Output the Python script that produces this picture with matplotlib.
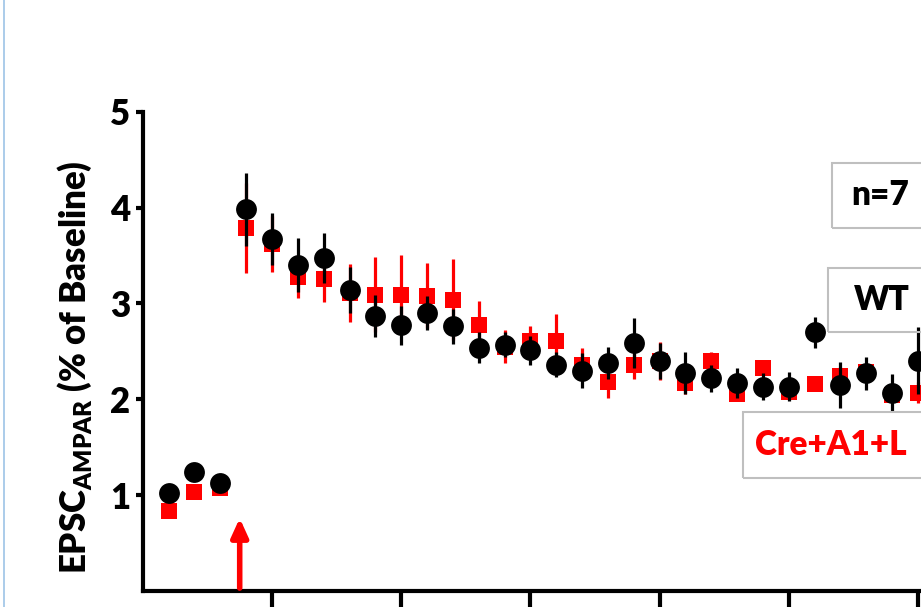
import matplotlib
matplotlib.use("Agg")
import matplotlib.pyplot as plt
from matplotlib.patches import Rectangle
from matplotlib.lines import Line2D

plt.rcParams['font.family'] = ['Lato', 'DejaVu Sans']
plt.rcParams['font.weight'] = 'heavy'
plt.rcParams['mathtext.fontset'] = 'custom'
plt.rcParams['mathtext.rm'] = 'Lato:heavy'
plt.rcParams['mathtext.bf'] = 'Lato:heavy'

# minutes
time = list(range(1, 31))

# WT (black circles)
wt_mean = [1.02, 1.24, 1.13, 3.98, 3.67, 3.40, 3.47, 3.14, 2.87, 2.77,
           2.90, 2.76, 2.54, 2.57, 2.51, 2.36, 2.30, 2.38, 2.59, 2.40,
           2.27, 2.22, 2.17, 2.13, 2.13, 2.70, 2.15, 2.27, 2.07, 2.40]
wt_sem = [0.0, 0.0, 0.0, 0.38, 0.27, 0.28, 0.26, 0.24, 0.22, 0.20,
          0.18, 0.18, 0.16, 0.13, 0.15, 0.13, 0.18, 0.17, 0.26, 0.19,
          0.22, 0.14, 0.16, 0.14, 0.15, 0.16, 0.24, 0.17, 0.19, 0.35]

# Cre+A1+L (red squares)
cre_mean = [0.83, 1.03, 1.07, 3.79, 3.62, 3.28, 3.25, 3.11, 3.09, 3.09,
            3.08, 3.04, 2.78, 2.55, 2.61, 2.61, 2.36, 2.18, 2.36, 2.40,
            2.17, 2.40, 2.06, 2.33, 2.08, 2.16, 2.24, 2.28, 2.04, 2.07]
cre_sem = [0.0, 0.0, 0.0, 0.47, 0.29, 0.22, 0.24, 0.30, 0.39, 0.41,
           0.34, 0.42, 0.25, 0.17, 0.15, 0.28, 0.17, 0.17, 0.15, 0.20,
           0.12, 0.09, 0.06, 0.05, 0.05, 0.0, 0.10, 0.10, 0.05, 0.11]

y_ticks = [1, 2, 3, 4, 5]
x_ticks = [5, 10, 15, 20, 25, 30]
arrow_x = 3.75

W, H = 921, 607
fig = plt.figure(figsize=(W / 100, H / 100), dpi=100)
ax = fig.add_axes([142.8 / W, 1 - 591 / H, 35 * 25.84 / W, (591 - 111.7) / H])

ax.errorbar(time, cre_mean, yerr=cre_sem, fmt='none', ecolor='red',
            elinewidth=2.3, capsize=0, zorder=2, clip_on=False)
ax.plot(time, cre_mean, 's', color='red', markersize=11, markeredgewidth=0,
        zorder=3, clip_on=False)
ax.errorbar(time, wt_mean, yerr=wt_sem, fmt='none', ecolor='black',
            elinewidth=2.3, capsize=0, zorder=4, clip_on=False)
ax.plot(time, wt_mean, 'o', color='black', markersize=15, markeredgewidth=0,
        zorder=5, clip_on=False)

# stimulation arrow
ax.annotate('', xy=(arrow_x, 0.76), xytext=(arrow_x, 0.03),
            arrowprops=dict(arrowstyle='-|>,head_width=0.5,head_length=1.1',
                            color='red', lw=4, shrinkA=0, shrinkB=0))

ax.set_xlim(0, 35)
ax.set_ylim(0, 5)
ax.set_yticks(y_ticks)
ax.set_yticklabels([str(t) for t in y_ticks])
ax.set_xticks(x_ticks)
ax.set_xticklabels([])
for s in ['top', 'right']:
    ax.spines[s].set_visible(False)
for s in ['left', 'bottom']:
    ax.spines[s].set_linewidth(3)
ax.tick_params(axis='y', length=5, width=3, labelsize=25, pad=4)
ax.tick_params(axis='x', length=12, width=3)

fig.text(75 / W, 1 - 367 / H, r'EPSC$_{\mathbf{AMPAR}}$ (% of Baseline)',
         rotation=90, ha='center', va='center', fontsize=25, fontweight='heavy')

# label boxes
boxes = [(832, 163, 228, 'n=7', 880, 'black'),
         (828, 268, 332, 'WT', 882, 'black'),
         (743, 412, 478, 'Cre+A1+L', 831, 'red')]
for left, top, bottom, label, cx, col in boxes:
    fig.patches.append(Rectangle((left / W, 1 - bottom / H), (W + 20 - left) / W,
                                 (bottom - top) / H, transform=fig.transFigure,
                                 fill=False, edgecolor='#bfbfbf', lw=1.5))
    fig.text(cx / W, 1 - (top + bottom) / 2 / H, label, ha='center', va='center',
             fontsize=24, fontweight='heavy', color=col)

# left frame line
fig.lines.append(Line2D([4 / W, 4 / W], [0, 1], transform=fig.transFigure,
                        color='#9dc3e6', lw=1.2))

fig.savefig('out.png', dpi=100)
